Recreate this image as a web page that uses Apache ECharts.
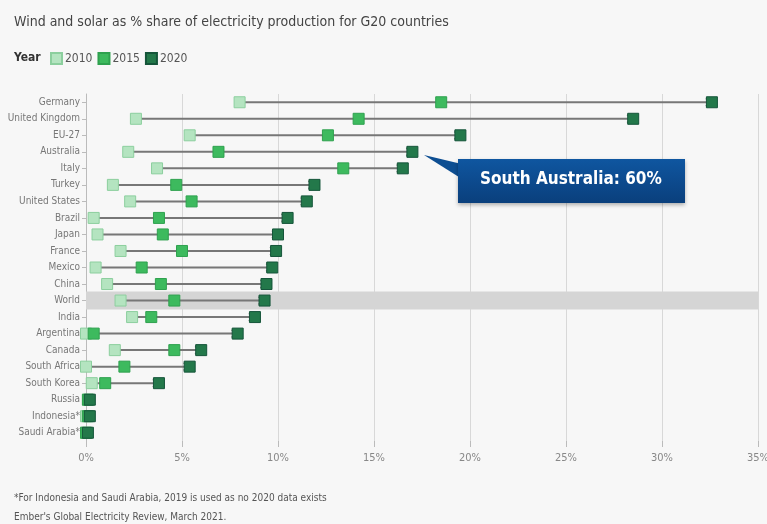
<!DOCTYPE html>
<html>
<head>
<meta charset="utf-8">
<script src="https://cdn.jsdelivr.net/npm/echarts@6/dist/echarts.min.js"></script>
<style>
  html, body { margin: 0; padding: 0; background: #f7f7f7; }
  #chart { width: 767px; height: 524px; }
</style>
</head>
<body>
<div id="chart"></div>
<script>
// countries, top to bottom
const countries = ['Germany', 'United Kingdom', 'EU-27', 'Australia', 'Italy', 'Turkey', 'United States',
  'Brazil', 'Japan', 'France', 'Mexico', 'China', 'World', 'India', 'Argentina', 'Canada',
  'South Africa', 'South Korea', 'Russia', 'Indonesia*', 'Saudi Arabia*']

// share of electricity, %
const share2010 = [8.0, 2.6, 5.4, 2.2, 3.7, 1.4, 2.3, 0.4, 0.6, 1.8, 0.5, 1.1, 1.8, 2.4, 0.0, 1.5, 0.0, 0.3, 0.1, 0.0, 0.0]
const share2015 = [18.5, 14.2, 12.6, 6.9, 13.4, 4.7, 5.5, 3.8, 4.0, 5.0, 2.9, 3.9, 4.6, 3.4, 0.4, 4.6, 2.0, 1.0, 0.1, 0.1, 0.0]
const share2020 = [32.6, 28.5, 19.5, 17.0, 16.5, 11.9, 11.5, 10.5, 10.0, 9.9, 9.7, 9.4, 9.3, 8.8, 7.9, 6.0, 5.4, 3.8, 0.2, 0.2, 0.1]

const highlighted = 'World'
const xTicks = [0, 5, 10, 15, 20, 25, 30, 35]

const colors = { '2010': '#b4e4c0', '2015': '#3dba5e', '2020': '#23784a' }
const borders = { '2010': '#8ccf9e', '2015': '#2fa14f', '2020': '#15553a' }

const font = 'DejaVu Sans Condensed, Liberation Sans Narrow, Roboto, sans-serif'

const chart = echarts.init(document.getElementById('chart'))

function points(arr) {
  return arr.map((v, i) => [v, i])
}

const scatter = (name, arr) => ({
  name: name,
  type: 'scatter',
  symbol: 'rect',
  symbolSize: 11,
  z: 5,
  itemStyle: { color: colors[name], borderColor: borders[name], borderWidth: 1, opacity: 1 },
  data: points(arr)
})

const option = {
  backgroundColor: '#f7f7f7',
  animation: false,
  title: {
    text: 'Wind and solar as % share of electricity production for G20 countries',
    left: 14,
    top: 15,
    padding: 0,
    textStyle: { fontFamily: font, fontSize: 14, fontWeight: 'normal', color: '#444' }
  },
  legend: {
    data: ['2010', '2015', '2020'],
    left: 50,
    top: 52,
    padding: 0,
    icon: 'rect',
    itemWidth: 11,
    itemHeight: 11,
    itemGap: 5,
    textStyle: { fontFamily: font, fontSize: 12, color: '#555', padding: [0, 0, 0, -2] }
  },
  grid: { left: 86, right: 9, top: 94, bottom: 83, outerBoundsMode: 'none', containLabel: false },
  xAxis: {
    type: 'value',
    min: xTicks[0],
    max: xTicks[xTicks.length - 1],
    interval: 5,
    axisLine: { show: false },
    axisTick: { show: true, length: 6, lineStyle: { color: '#bbb' } },
    axisLabel: { formatter: '{value}%', color: '#888', fontSize: 11, margin: 12, fontFamily: font },
    splitLine: { show: true, lineStyle: { color: '#d8d8d8', width: 1 } }
  },
  yAxis: {
    type: 'category',
    data: countries,
    inverse: true,
    boundaryGap: true,
    axisLine: { show: true, lineStyle: { color: '#bbb' } },
    axisTick: { show: true, alignWithLabel: true, length: 4, lineStyle: { color: '#bbb' } },
    axisLabel: { color: '#777', fontSize: 10, margin: 6, fontFamily: font }
  },
  graphic: [
    {
      type: 'text', left: 14, top: 52,
      style: { text: 'Year', fontFamily: font, fontSize: 12, fontWeight: 'bold', fill: '#333' }
    },
    {
      type: 'polygon', z: 20,
      shape: { points: [[424, 155], [470, 166], [470, 184]] },
      style: { fill: '#0d4e92' }
    },
    {
      type: 'rect', z: 20,
      shape: { x: 458, y: 159, width: 227, height: 44 },
      style: {
        fill: new echarts.graphic.LinearGradient(0, 0, 0, 1, [
          { offset: 0, color: '#0f56a0' }, { offset: 1, color: '#0a3f7c' }
        ]),
        shadowBlur: 4, shadowColor: 'rgba(0,0,0,0.3)', shadowOffsetY: 2
      }
    },
    {
      type: 'text', z: 21, left: 480, top: 171,
      style: { text: 'South Australia: 60%', fontFamily: font, fontSize: 17, fontWeight: 'bold', fill: '#fff' }
    },
    {
      type: 'text', left: 14, top: 493,
      style: { text: '*For Indonesia and Saudi Arabia, 2019 is used as no 2020 data exists', fontFamily: font, fontSize: 10, fill: '#555' }
    },
    {
      type: 'text', left: 14, top: 512,
      style: { text: 'Ember\'s Global Electricity Review, March 2021.', fontFamily: font, fontSize: 10, fill: '#555' }
    }
  ],
  series: [
    {
      name: 'band',
      type: 'bar',
      barWidth: 18,
      silent: true,
      z: 1,
      itemStyle: { color: '#d5d5d5' },
      data: countries.map(c => c === highlighted ? xTicks[xTicks.length - 1] + 0.3 : '-')
    },
    {
      name: 'change',
      type: 'custom',
      z: 3,
      data: countries.map((c, i) => [i, share2010[i], share2020[i]]),
      renderItem: (params, api) => {
        const p1 = api.coord([api.value(1), api.value(0)])
        const p2 = api.coord([api.value(2), api.value(0)])
        if (p2[0] - p1[0] < 8) return null
        const style = { stroke: '#777', lineWidth: 2, fill: null }
        return {
          type: 'group',
          children: [
            { type: 'line', shape: { x1: p1[0], y1: p1[1], x2: p2[0] - 1, y2: p2[1] }, style: style },
            { type: 'polyline', shape: { points: [[p2[0] - 6, p2[1] - 4], [p2[0], p2[1]], [p2[0] - 6, p2[1] + 4]] }, style: style }
          ]
        }
      }
    },
    scatter('2010', share2010),
    scatter('2015', share2015),
    scatter('2020', share2020)
  ]
}

chart.setOption(option)
</script>
</body>
</html>
